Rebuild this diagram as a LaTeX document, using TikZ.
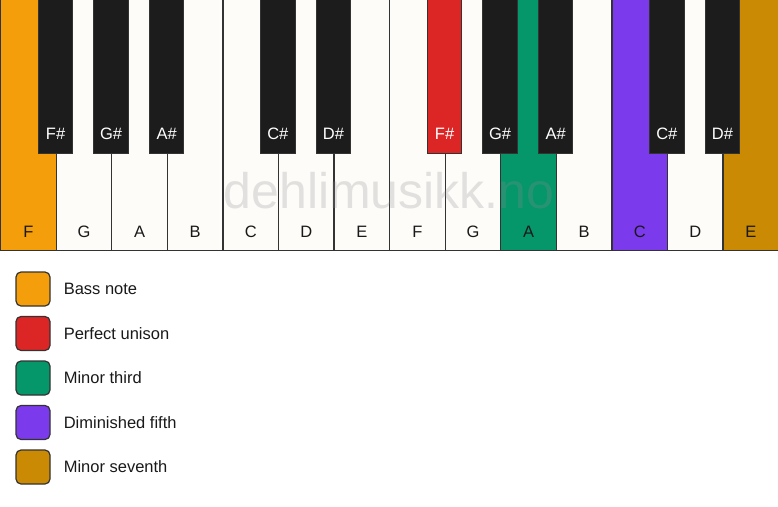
\documentclass[tikz,border=0pt]{standalone}
\usepackage{fontspec}
\setmainfont{Liberation Sans}
\usetikzlibrary{positioning}

\definecolor{bassnote}{HTML}{F59E0B}
\definecolor{unison}{HTML}{DC2626}
\definecolor{minthird}{HTML}{059669}
\definecolor{dimfifth}{HTML}{7C3AED}
\definecolor{minseventh}{HTML}{CA8A04}
\definecolor{ivory}{HTML}{FDFCF9}
\definecolor{ebony}{HTML}{1C1C1C}
\definecolor{keyline}{HTML}{333333}
\definecolor{wmark}{RGB}{142,142,142}

\begin{document}
\begin{tikzpicture}[x=1pt, y=1pt, font=\fontsize{16.5}{19}\selectfont, text=black!90,
    whitekey/.style={draw=keyline, line width=1.3pt, fill=ivory, minimum width=55.57pt, minimum height=251pt, inner sep=0pt, anchor=north west},
    blackkey/.style={draw=keyline, line width=1pt, fill=ebony, minimum width=34.5pt, minimum height=154pt, inner sep=0pt, anchor=north},
    swatch/.style={draw=keyline, line width=1.2pt, rounded corners=5pt, minimum size=34pt, inner sep=0pt},
    legendtext/.style={right=13pt of #1, inner sep=0pt}]
    \useasboundingbox (0,0) rectangle (778,-506);

    % white keys
    \foreach \n/\c [count=\i] in {F/bassnote, G/ivory, A/ivory, B/ivory, C/ivory, D/ivory, E/ivory, F/ivory, G/ivory, A/minthird, B/ivory, C/dimfifth, D/ivory, E/minseventh} {
        \node (wk\i) [whitekey, fill=\c] at ({(\i-1)*55.57}, 1) {};
        \node (wl\i) at ([yshift=19pt]wk\i.south) {\n};
    }

    % watermark
    \node (wm) [text=wmark, opacity=0.25, font=\fontsize{50}{52}\selectfont, anchor=base] at (389,-208) {dehlimusikk.no};

    % black keys
    \foreach \b/\n/\c in {1/F\#/ebony, 2/G\#/ebony, 3/A\#/ebony, 5/C\#/ebony, 6/D\#/ebony, 8/F\#/unison, 9/G\#/ebony, 10/A\#/ebony, 12/C\#/ebony, 13/D\#/ebony} {
        \node (bk\b) [blackkey, fill=\c] at ({\b*55.57}, 1) {};
        \node (bl\b) [text=white] at ([yshift=20pt]bk\b.south) {\n};
    }

    % legend
    \foreach \t/\c [count=\i] in {Bass note/bassnote, Perfect unison/unison, Minor third/minthird, Diminished fifth/dimfifth, Minor seventh/minseventh} {
        \node (sw\i) [swatch, fill=\c] at (33, {-289-(\i-1)*44.5}) {};
        \node (lt\i) [legendtext=sw\i] {\t};
    }
\end{tikzpicture}
\end{document}
